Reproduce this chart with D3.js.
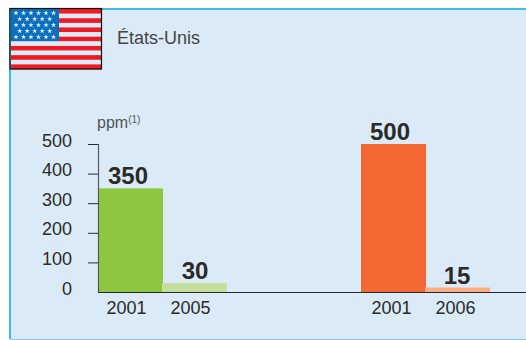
<!DOCTYPE html>
<html>
<head>
<meta charset="utf-8">
<script src="https://cdnjs.cloudflare.com/ajax/libs/d3/7.8.5/d3.min.js"></script>
<style>
html, body { margin: 0; padding: 0; background: #fff; }
svg { display: block; }
text { font-family: "Liberation Sans", sans-serif; fill: #2b2a29; }
</style>
</head>
<body>
<div id="container"></div>
<script>
let w = 526;
let h = 340;

const country = "États-Unis";
const unit = "ppm";
const unitNote = "(1)";
const yTicks = [0, 100, 200, 300, 400, 500];

// two groups of bars, old limit then new limit
const leftYears = ["2001", "2005"];
const leftValues = [350, 30];
const leftColors = ["#8dc63f", "#c4df9b"];
const rightYears = ["2001", "2006"];
const rightValues = [500, 15];
const rightColors = ["#f46733", "#f9ad81"];

let viz = d3.select("#container").append("svg")
    .attr("width", w)
    .attr("height", h);

// panel
viz.append("rect")
    .attr("x", 10).attr("y", 9)
    .attr("width", w - 10).attr("height", 330)
    .attr("fill", "#daeaf7");
viz.append("path")
    .attr("d", "M10,339V9H526")
    .attr("fill", "none")
    .attr("stroke", "#3fb8ea")
    .attr("stroke-width", 2);
viz.append("path")
    .attr("d", "M10,339.5H526")
    .attr("stroke", "#82c4ec")
    .attr("stroke-width", 1);

let yScale = d3.scaleLinear().domain([0, 500]).range([292, 144]);

function drawGroup(years, values, colors, x0, valueShift, yearShift) {
    let xScale = d3.scaleBand().domain(years).range([x0, x0 + 128]).padding(0);
    let g = viz.append("g");
    g.selectAll("rect").data(values).enter()
        .append("rect")
        .attr("x", (d, i) => xScale(years[i]))
        .attr("y", d => yScale(d))
        .attr("width", xScale.bandwidth() + 1)
        .attr("height", d => yScale(0) - yScale(d))
        .attr("fill", (d, i) => colors[i]);
    g.selectAll(".val").data(values).enter()
        .append("text")
        .attr("class", "val")
        .attr("x", (d, i) => xScale(years[i]) + xScale.bandwidth() / 2 + valueShift[i])
        .attr("y", d => yScale(d) - 4)
        .attr("text-anchor", "middle")
        .style("font-size", "24px")
        .style("font-weight", "bold")
        .text(d => d);
    g.selectAll(".yr").data(years).enter()
        .append("text")
        .attr("class", "yr")
        .attr("x", d => xScale(d) + xScale.bandwidth() / 2 + yearShift)
        .attr("y", 314)
        .attr("text-anchor", "middle")
        .style("font-size", "18px")
        .text(d => d);
}

drawGroup(leftYears, leftValues, leftColors, 98, [-2, 1], -3.5);
drawGroup(rightYears, rightValues, rightColors, 361, [-3, 0], -1.5);

// y axis
let yAxis = d3.axisLeft(yScale).tickValues(yTicks).tickSize(10).tickPadding(16);
let axisG = viz.append("g").attr("transform", "translate(98,0)").call(yAxis);
axisG.select(".domain").attr("stroke", "#55595c").attr("stroke-width", 1.2)
    .attr("d", "M-10,144.5H0.5V292.5");
axisG.selectAll("line").attr("stroke", "#2b2a29");
axisG.selectAll("text")
    .attr("fill", "#2b2a29")
    .attr("dy", "0.12em")
    .style("font-size", "18px")
    .style("font-family", '"Liberation Sans", sans-serif');
axisG.selectAll(".tick").filter(d => d === 0).select("line").remove();

// baseline
viz.append("line")
    .attr("x1", 98).attr("x2", w)
    .attr("y1", 292.5).attr("y2", 292.5)
    .attr("stroke", "#2b2a29")
    .attr("stroke-width", 1);

// unit label
let unitText = viz.append("text")
    .attr("x", 97).attr("y", 128)
    .style("font-size", "16px")
    .style("fill", "#555")
    .text(unit);
unitText.append("tspan")
    .attr("dy", -5)
    .style("font-size", "10px")
    .text(unitNote);

viz.append("text")
    .attr("x", 117).attr("y", 44)
    .style("font-size", "18px")
    .style("fill", "#444")
    .text(country);

// flag
let flag = viz.append("g").attr("transform", "translate(11,9)");
const flagW = 90, flagH = 60;
let stripeY = d3.scaleBand().domain(d3.range(13)).range([0, flagH]);
flag.selectAll(".stripe").data(d3.range(13)).enter()
    .append("rect")
    .attr("class", "stripe")
    .attr("x", 0)
    .attr("y", d => stripeY(d))
    .attr("width", flagW)
    .attr("height", stripeY.bandwidth() + 0.3)
    .attr("fill", d => d % 2 ? "#dcebf7" : "#ed1c24");
flag.append("rect")
    .attr("width", 48).attr("height", 32)
    .attr("fill", "#0a70bd");
const starRows = [6, 5, 6, 5, 6];
let star = d3.symbol().type(d3.symbolStar).size(9);
starRows.forEach((n, r) => {
    for (let i = 0; i < n; i++) {
        flag.append("path")
            .attr("d", star)
            .attr("fill", "#e8f2fa")
            .attr("transform", `translate(${(n === 6 ? 5 : 8.7) + i * 7.5},${4 + r * 6})`);
    }
});
flag.append("rect")
    .attr("x", -1).attr("y", -0.5)
    .attr("width", flagW + 1.5).attr("height", flagH + 0.5)
    .attr("fill", "none")
    .attr("stroke", "#111")
    .attr("stroke-width", 1.2);
</script>
</body>
</html>
